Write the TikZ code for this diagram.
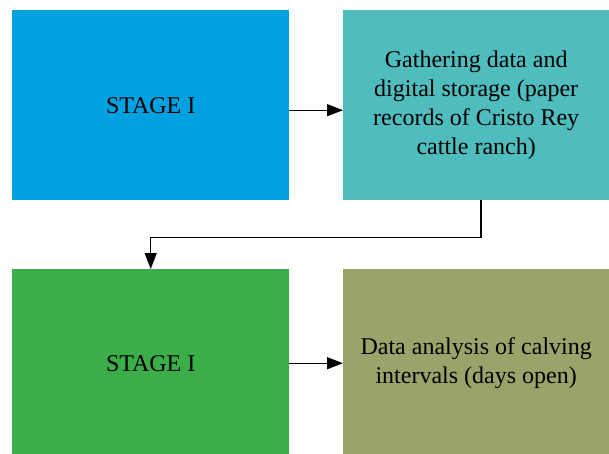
\documentclass[tikz,border=0pt]{standalone}
\usepackage{fontspec}
\setmainfont{Liberation Serif}
\usetikzlibrary{arrows.meta,calc}
\definecolor{cblue}{RGB}{0,161,224}
\definecolor{cteal}{RGB}{79,189,190}
\definecolor{cgreen}{RGB}{59,174,74}
\definecolor{colive}{RGB}{153,164,106}
\begin{document}
\begin{tikzpicture}[x=1pt,y=-1pt,
  stagebox/.style={minimum width=277pt,anchor=north west,inner sep=0pt,align=center,
    font=\fontsize{24}{29}\selectfont,text=black},
  conn/.style={line width=1.3pt,-{Triangle[length=16pt,width=12pt]}}]
\useasboundingbox (0,0) rectangle (609,454);
\node[stagebox,fill=cblue,minimum height=190pt] (s1) at (12,10) {STAGE I};
\node[stagebox,fill=cteal,minimum height=190pt,minimum width=266pt] (s2) at (343,10)
  {Gathering data and\\digital storage (paper\\records of Cristo Rey\\cattle ranch)};
\node[stagebox,fill=cgreen,minimum height=188pt] (s3) at (12,269) {STAGE I};
\node[stagebox,fill=colive,minimum height=188pt,minimum width=266pt] (s4) at (343,269)
  {Data analysis of calving\\intervals (days open)};
\draw[conn] ($(s1.east)+(0,5)$) -- ($(s2.west)+(0,5)$);
\draw[conn] ($(s3.east)+(0,0)$) -- ($(s4.west)+(0,0)$);
\coordinate (c1) at ($(s2.south west)+(138,37)$);
\draw[conn] ($(s2.south west)+(138,0)$) |- (c1) -| (s3.north);
\end{tikzpicture}
\end{document}
